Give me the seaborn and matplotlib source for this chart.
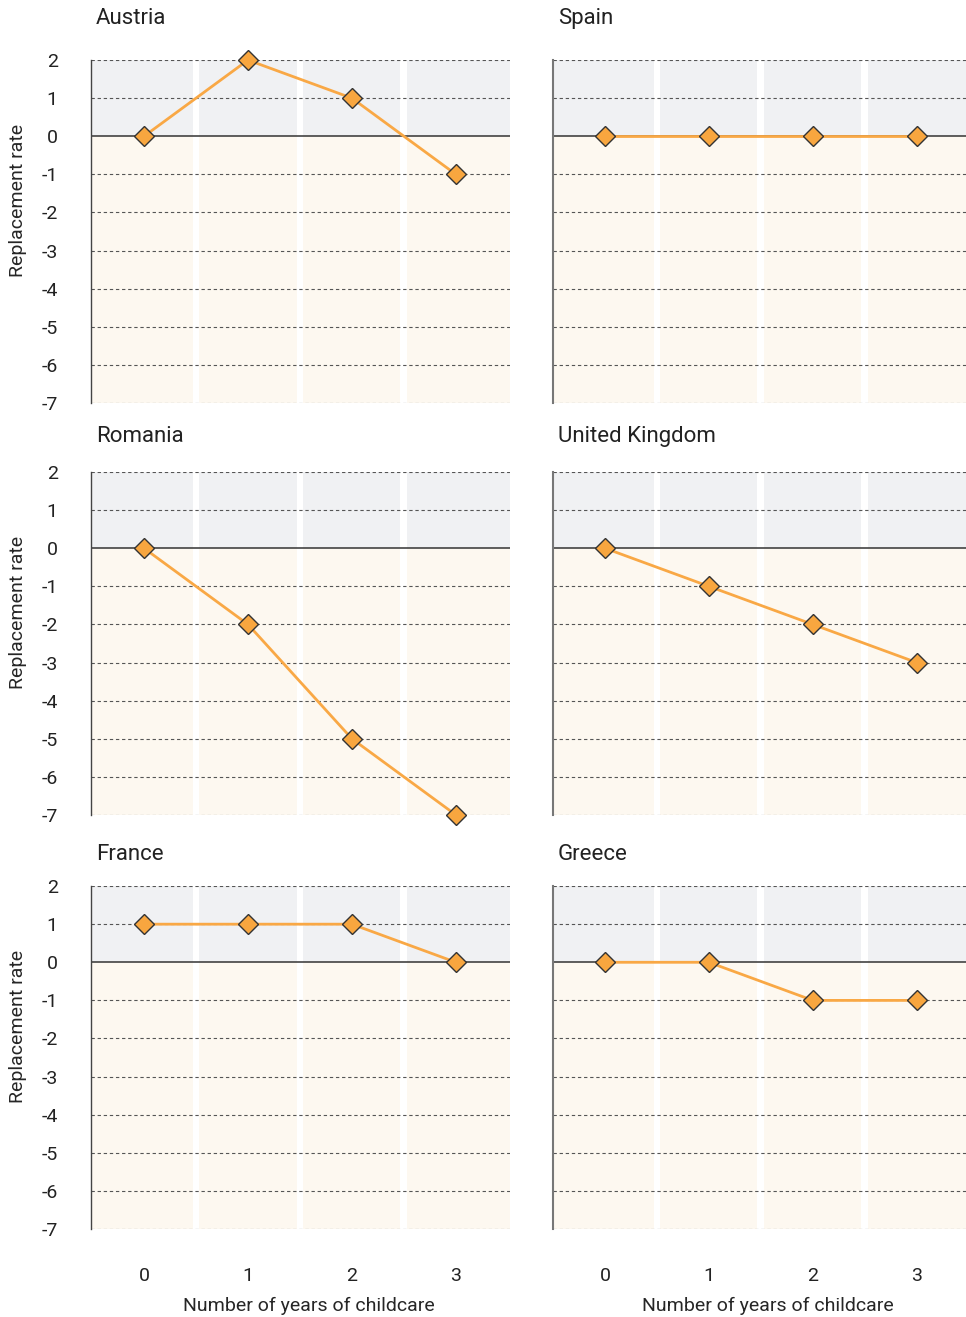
import numpy as np
import pandas as pd
import matplotlib
matplotlib.use("Agg")
import matplotlib.pyplot as plt
import seaborn as sns

# data
years = [0, 1, 2, 3]
countries = ["Austria", "Spain", "Romania", "United Kingdom", "France", "Greece"]
austria = [0, 2, 1, -1]
spain = [0, 0, 0, 0]
romania = [0, -2, -5, -7]
united_kingdom = [0, -1, -2, -3]
france = [1, 1, 1, 0]
greece = [0, 0, -1, -1]
y_ticks = [2, 1, 0, -1, -2, -3, -4, -5, -6, -7]

series = [austria, spain, romania, united_kingdom, france, greece]
df = pd.DataFrame({
    "country": np.repeat(countries, len(years)),
    "years": years * len(countries),
    "rate": np.concatenate(series),
})

sns.set_style("white")
plt.rcParams["font.family"] = ["Roboto", "DejaVu Sans"]
plt.rcParams["text.color"] = "#222222"
plt.rcParams["axes.unicode_minus"] = False

ORANGE = "#f9a845"
GREY_BAND = "#f0f1f3"
CREAM_BAND = "#fdf8f0"

fig = plt.figure(figsize=(9.66, 13.17), dpi=100)

col_left = [0.0942, 0.5725]
col_width = [0.4337, 0.4270]
row_bottom = [0.694, 0.3812, 0.0668]
row_height = 0.2604
xlims = [(-0.51, 3.52), (-0.50, 3.47)]
title_y = [1.12, 1.105, 1.092]   # title centre above each row, axes fraction

for i, country in enumerate(countries):
    row, col = divmod(i, 2)
    ax = fig.add_axes([col_left[col], row_bottom[row], col_width[col], row_height])
    ax.set_xlim(*xlims[col])
    ax.set_ylim(-7, 2)

    # background bands
    ax.axhspan(0, 2, color=GREY_BAND, zorder=0, lw=0)
    ax.axhspan(-7, 0, color=CREAM_BAND, zorder=0, lw=0)
    for b in [0.5, 1.5, 2.5]:
        ax.axvspan(b - 0.033, b + 0.033, color="white", zorder=0.5, lw=0)

    # dashed grid + zero line
    for t in y_ticks:
        if t == 0:
            ax.axhline(0, color="#333333", lw=1.1, zorder=1)
        else:
            ax.axhline(t, color="#555555", lw=0.8, ls=(0, (3, 2.5)), zorder=1)

    sub = df[df["country"] == country]
    sns.lineplot(data=sub, x="years", y="rate", ax=ax, color=ORANGE, lw=2,
                 marker="D", markersize=10, markerfacecolor="#f8a63f",
                 markeredgecolor="#333333", markeredgewidth=1, zorder=3,
                 clip_on=False)

    for s in ["top", "right", "bottom"]:
        ax.spines[s].set_visible(False)
    ax.spines["left"].set_color("#444444" if col == 0 else "#777777")
    ax.spines["left"].set_linewidth(1.0 if col == 0 else 1.5)

    ax.set_yticks(y_ticks)
    ax.set_xticks(years)
    ax.tick_params(length=0, labelsize=14, colors="#222222")
    ax.tick_params(axis="y", pad=24)
    ax.tick_params(axis="x", pad=27)

    if col == 0:
        ax.set_ylabel("Replacement rate", fontsize=14)
        ax.yaxis.set_label_coords(-0.152, 0.59)
    else:
        ax.set_ylabel("")
        ax.set_yticklabels([])

    if row == 2:
        ax.set_xlabel("Number of years of childcare", fontsize=14)
        ax.xaxis.set_label_coords(0.52, -0.198)
    else:
        ax.set_xlabel("")
        ax.set_xticklabels([])

    ax.text(0.012, title_y[row], country, transform=ax.transAxes,
            ha="left", va="center", fontsize=16)

fig.savefig("out.png", dpi=100)
